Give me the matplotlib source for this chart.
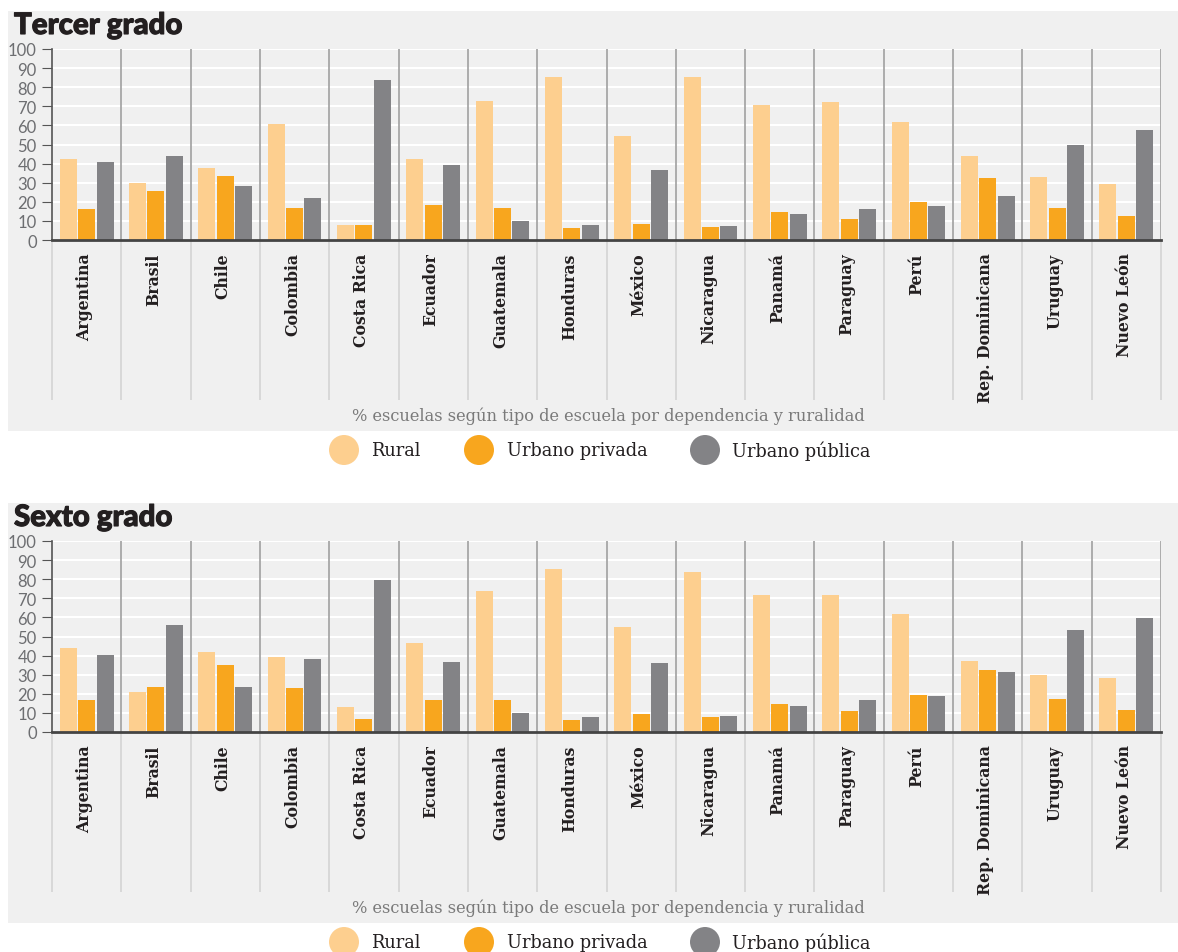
import matplotlib
matplotlib.use("Agg")
import matplotlib.pyplot as plt
import matplotlib.patheffects as pe
import numpy as np
from matplotlib.patches import Rectangle, Circle

###############################################################################
############                        Data                          #############
###############################################################################
paises = [
    "Argentina", "Brasil", "Chile", "Colombia", "Costa Rica", "Ecuador",
    "Guatemala", "Honduras", "México", "Nicaragua", "Panamá", "Paraguay",
    "Perú", "Rep. Dominicana", "Uruguay", "Nuevo León",
]
series = ["Rural", "Urbano privada", "Urbano pública"]
colores = ["#fdcf8f", "#f8a61e", "#838386"]

# Tercer grado
tercer_rural = [42.4, 29.8, 37.7, 60.7, 7.9, 42.4, 72.8, 85.3,
                54.5, 85.3, 70.7, 72.3, 61.8, 44.0, 33.0, 29.3]
tercer_privada = [16.2, 25.7, 33.5, 16.8, 7.9, 18.3, 16.8, 6.3,
                  8.4, 6.8, 14.7, 11.0, 19.9, 32.5, 16.8, 12.6]
tercer_publica = [40.8, 44.0, 28.3, 22.0, 83.8, 39.3, 9.9, 7.9,
                  36.6, 7.3, 13.6, 16.2, 17.8, 23.0, 49.7, 57.6]

# Sexto grado
sexto_rural = [43.8, 20.7, 41.7, 39.1, 13.3, 46.4, 73.7, 85.3,
               54.8, 83.7, 71.6, 71.6, 61.6, 37.0, 29.6, 28.5]
sexto_privada = [16.5, 23.3, 34.9, 22.8, 7.0, 17.0, 16.5, 6.5,
                 9.6, 8.1, 14.9, 11.2, 19.6, 32.2, 17.5, 11.7]
sexto_publica = [40.1, 55.9, 23.8, 38.0, 79.5, 36.4, 10.2, 8.1,
                 35.9, 8.6, 13.8, 17.0, 18.6, 31.2, 53.2, 59.5]

titulos = ["Tercer grado", "Sexto grado"]
caption = "% escuelas según tipo de escuela por dependencia y ruralidad"

###############################################################################
############                        Layout                        #############
###############################################################################
W, H = 1178, 953
fig = plt.figure(figsize=(W / 100, H / 100), dpi=100)
fig.patch.set_facecolor("white")

DARK = "#231f20"
GRAY_TXT = "#6d6e71"
PANEL = "#f0f0f0"


def fx(x):
    return x / W


def fy(y):
    return 1 - y / H


def draw_panel(off, title, rural, privada, publica):
    # gray background panel
    fig.add_artist(
        Rectangle((fx(8), fy(432 + off)), fx(1178 - 8), (432 - 12) / H,
                  transform=fig.transFigure, facecolor=PANEL,
                  edgecolor="none", zorder=-5)
    )
    fig.text(fx(14), fy(35 + off), title, fontsize=21.2, fontweight="black",
             family="Lato", color=DARK, va="baseline", ha="left",
             path_effects=[pe.withStroke(linewidth=0.8, foreground=DARK)])

    ax = fig.add_axes([fx(52), fy(241 + off), fx(1161 - 52), 191 / H])
    ax.set_facecolor("none")
    x = np.arange(len(paises))
    step, w = 0.265, 0.245
    for vals, off_x, col in zip([rural, privada, publica], [-step, 0, step], colores):
        ax.bar(x + off_x, vals, width=w, color=col, zorder=3)

    ax.set_xlim(-0.5, len(paises) - 0.5)
    ax.set_ylim(0, 100)
    ax.set_yticks(range(0, 101, 10))
    ax.set_xticks([])
    ax.yaxis.grid(True, color="white", linewidth=1.5, zorder=0)
    ax.set_axisbelow(True)

    seps = np.arange(len(paises) + 1) - 0.5
    ax.vlines(seps[1:], 0, 100, color="#a0a0a0", linewidth=1.2, zorder=2)
    ax.vlines(seps, -84, 0, color="#d4d4d4", linewidth=1.2, zorder=2,
              clip_on=False)

    for xi, name in zip(x, paises):
        ax.text(xi - 0.03, -6.5, name, rotation=90, ha="center", va="top",
                fontsize=11.3, fontweight="bold", family="DejaVu Serif",
                color=DARK, clip_on=False)

    for s in ["top", "right"]:
        ax.spines[s].set_visible(False)
    ax.spines["left"].set_color("#555555")
    ax.spines["left"].set_linewidth(1.2)
    ax.spines["bottom"].set_color("#444444")
    ax.spines["bottom"].set_linewidth(2)
    ax.spines["bottom"].set_zorder(4)
    ax.tick_params(axis="y", length=7, color="#555555", labelcolor=GRAY_TXT,
                   labelsize=12, pad=4)
    for lab in ax.get_yticklabels():
        lab.set_family("Lato")

    fig.text(fx(608), fy(416.5 + off), caption, ha="center", va="center",
             fontsize=11.7, family="DejaVu Serif", color="#7a7a7a")

    # legend
    for cx, tx, name, col in zip([344, 479, 705], [371, 507, 732], series, colores):
        fig.add_artist(
            Circle((cx / 100, (H - 451 - off) / 100), 0.15,
                   transform=fig.dpi_scale_trans, facecolor=col,
                   edgecolor="none")
        )
        fig.text(fx(tx), fy(451 + off), name, ha="left", va="center",
                 fontsize=12.8, family="DejaVu Serif", color=DARK)


draw_panel(0, titulos[0], tercer_rural, tercer_privada, tercer_publica)
draw_panel(492, titulos[1], sexto_rural, sexto_privada, sexto_publica)

fig.savefig("out.png", dpi=100)
